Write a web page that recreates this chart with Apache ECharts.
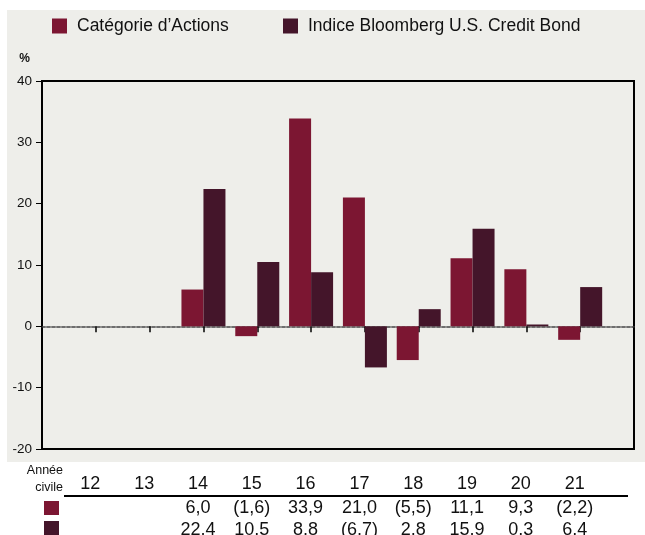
<!DOCTYPE html>
<html>
<head>
<meta charset="utf-8">
<script src="https://cdn.jsdelivr.net/npm/echarts@6/dist/echarts.min.js"></script>
<style>
  html, body { margin: 0; padding: 0; background: #ffffff; }
  #chart { width: 645px; height: 535px; }
</style>
</head>
<body>
<div id="chart"></div>
<script>
// ---- data ----
const categories = ['12', '13', '14', '15', '16', '17', '18', '19', '20', '21'];
const fundReturns = [null, null, 6.0, -1.6, 33.9, 21.0, -5.5, 11.1, 9.3, -2.2];
const indexReturns = [null, null, 22.4, 10.5, 8.8, -6.7, 2.8, 15.9, 0.3, 6.4];
const seriesNames = ['Catégorie d’Actions', 'Indice Bloomberg U.S. Credit Bond'];
const yMin = -20, yMax = 40, yStep = 10;
const yUnit = '%';
const rowTitle = ['Année', 'civile'];

// ---- helpers ----
const RED = '#7c1632', DARK = '#44152a';
const SANS = "'Liberation Sans', Arial, sans-serif";
const pad = (arr, fill) => [fill].concat(arr, [fill]);
const axisData = pad(categories, '');
const fmt = v => v == null ? '' :
  (v < 0 ? '(' + Math.abs(v).toFixed(1).replace('.', ',') + ')' : v.toFixed(1).replace('.', ','));

const chart = echarts.init(document.getElementById('chart'), null, { renderer: 'canvas' });

function tableAxis(labels, offset) {
  return {
    type: 'category', gridIndex: 1, position: 'bottom', offset: offset,
    boundaryGap: false, data: labels,
    axisLine: { show: false }, axisTick: { show: false },
    axisLabel: { interval: 0, margin: 0, verticalAlign: 'middle', color: '#111',
      fontFamily: SANS, fontSize: 18 }
  };
}

function legendFor(name, left) {
  return { data: [name], left: left, top: 17, padding: 0, itemWidth: 15, itemHeight: 15, icon: 'rect',
    textStyle: { fontFamily: SANS, fontSize: 17.5, color: '#111', padding: [0, 0, 0, 5] } };
}

const option = {
  backgroundColor: '#ffffff',
  animation: false,
  legend: [legendFor(seriesNames[0], 52), legendFor(seriesNames[1], 283)],
  grid: [
    { left: 42, right: 11, top: 81, bottom: 86, show: true, borderColor: '#000', borderWidth: 2,
      backgroundColor: 'transparent', containLabel: false, outerBoundsMode: 'none' },
    { left: 36.5, right: 16.5, top: 300, bottom: 535 - 484, show: false,
      containLabel: false, outerBoundsMode: 'none' }
  ],
  xAxis: [
    { type: 'category', gridIndex: 0, data: axisData, boundaryGap: false,
      axisLine: { onZero: true, lineStyle: { color: '#6e6e6e', width: 2, type: [3, 2] } },
      axisTick: { show: true, interval: 0, length: 6, lineStyle: { color: '#000', width: 1.5 } },
      axisLabel: { show: false }, splitLine: { show: false } },
    tableAxis(axisData, 0),
    tableAxis(pad(fundReturns.map(fmt), ''), 24),
    tableAxis(pad(indexReturns.map(fmt), ''), 46)
  ],
  yAxis: [
    { type: 'value', gridIndex: 0, min: yMin, max: yMax, interval: yStep,
      axisLine: { show: true, lineStyle: { color: '#000', width: 2 } },
      axisTick: { show: true, length: 6, lineStyle: { color: '#000', width: 1 } },
      axisLabel: { margin: 10, color: '#111', fontFamily: SANS, fontSize: 13.5 },
      splitLine: { show: false } },
    { type: 'value', gridIndex: 1, show: false }
  ],
  graphic: [
    { type: 'rect', z: -100, silent: true, shape: { x: 7, y: 10, width: 638, height: 452 },
      style: { fill: '#eeeeea' } },
    { type: 'text', x: 24.5, y: 58.5, style: { text: yUnit, font: "bold 12px " + SANS, fill: '#111',
      textAlign: 'center', textVerticalAlign: 'middle' } },
    { type: 'text', x: 63, y: 471, style: { text: rowTitle[0], font: "12.5px " + SANS, fill: '#111',
      textAlign: 'right', textVerticalAlign: 'middle' } },
    { type: 'text', x: 63, y: 488, style: { text: rowTitle[1], font: "12.5px " + SANS, fill: '#111',
      textAlign: 'right', textVerticalAlign: 'middle' } },
    { type: 'line', shape: { x1: 64, y1: 496, x2: 628, y2: 496 }, style: { stroke: '#000', lineWidth: 2 } },
    { type: 'rect', shape: { x: 44, y: 501, width: 15, height: 14 }, style: { fill: RED } },
    { type: 'rect', shape: { x: 44, y: 521, width: 15, height: 14 }, style: { fill: DARK } }
  ],
  series: [
    { name: seriesNames[0], type: 'bar', xAxisIndex: 0, yAxisIndex: 0, data: pad(fundReturns, null),
      barWidth: 22, barGap: '0%', itemStyle: { color: RED } },
    { name: seriesNames[1], type: 'bar', xAxisIndex: 0, yAxisIndex: 0, data: pad(indexReturns, null),
      barWidth: 22, barGap: '0%', itemStyle: { color: DARK } }
  ]
};
chart.setOption(option);
</script>
</body>
</html>
